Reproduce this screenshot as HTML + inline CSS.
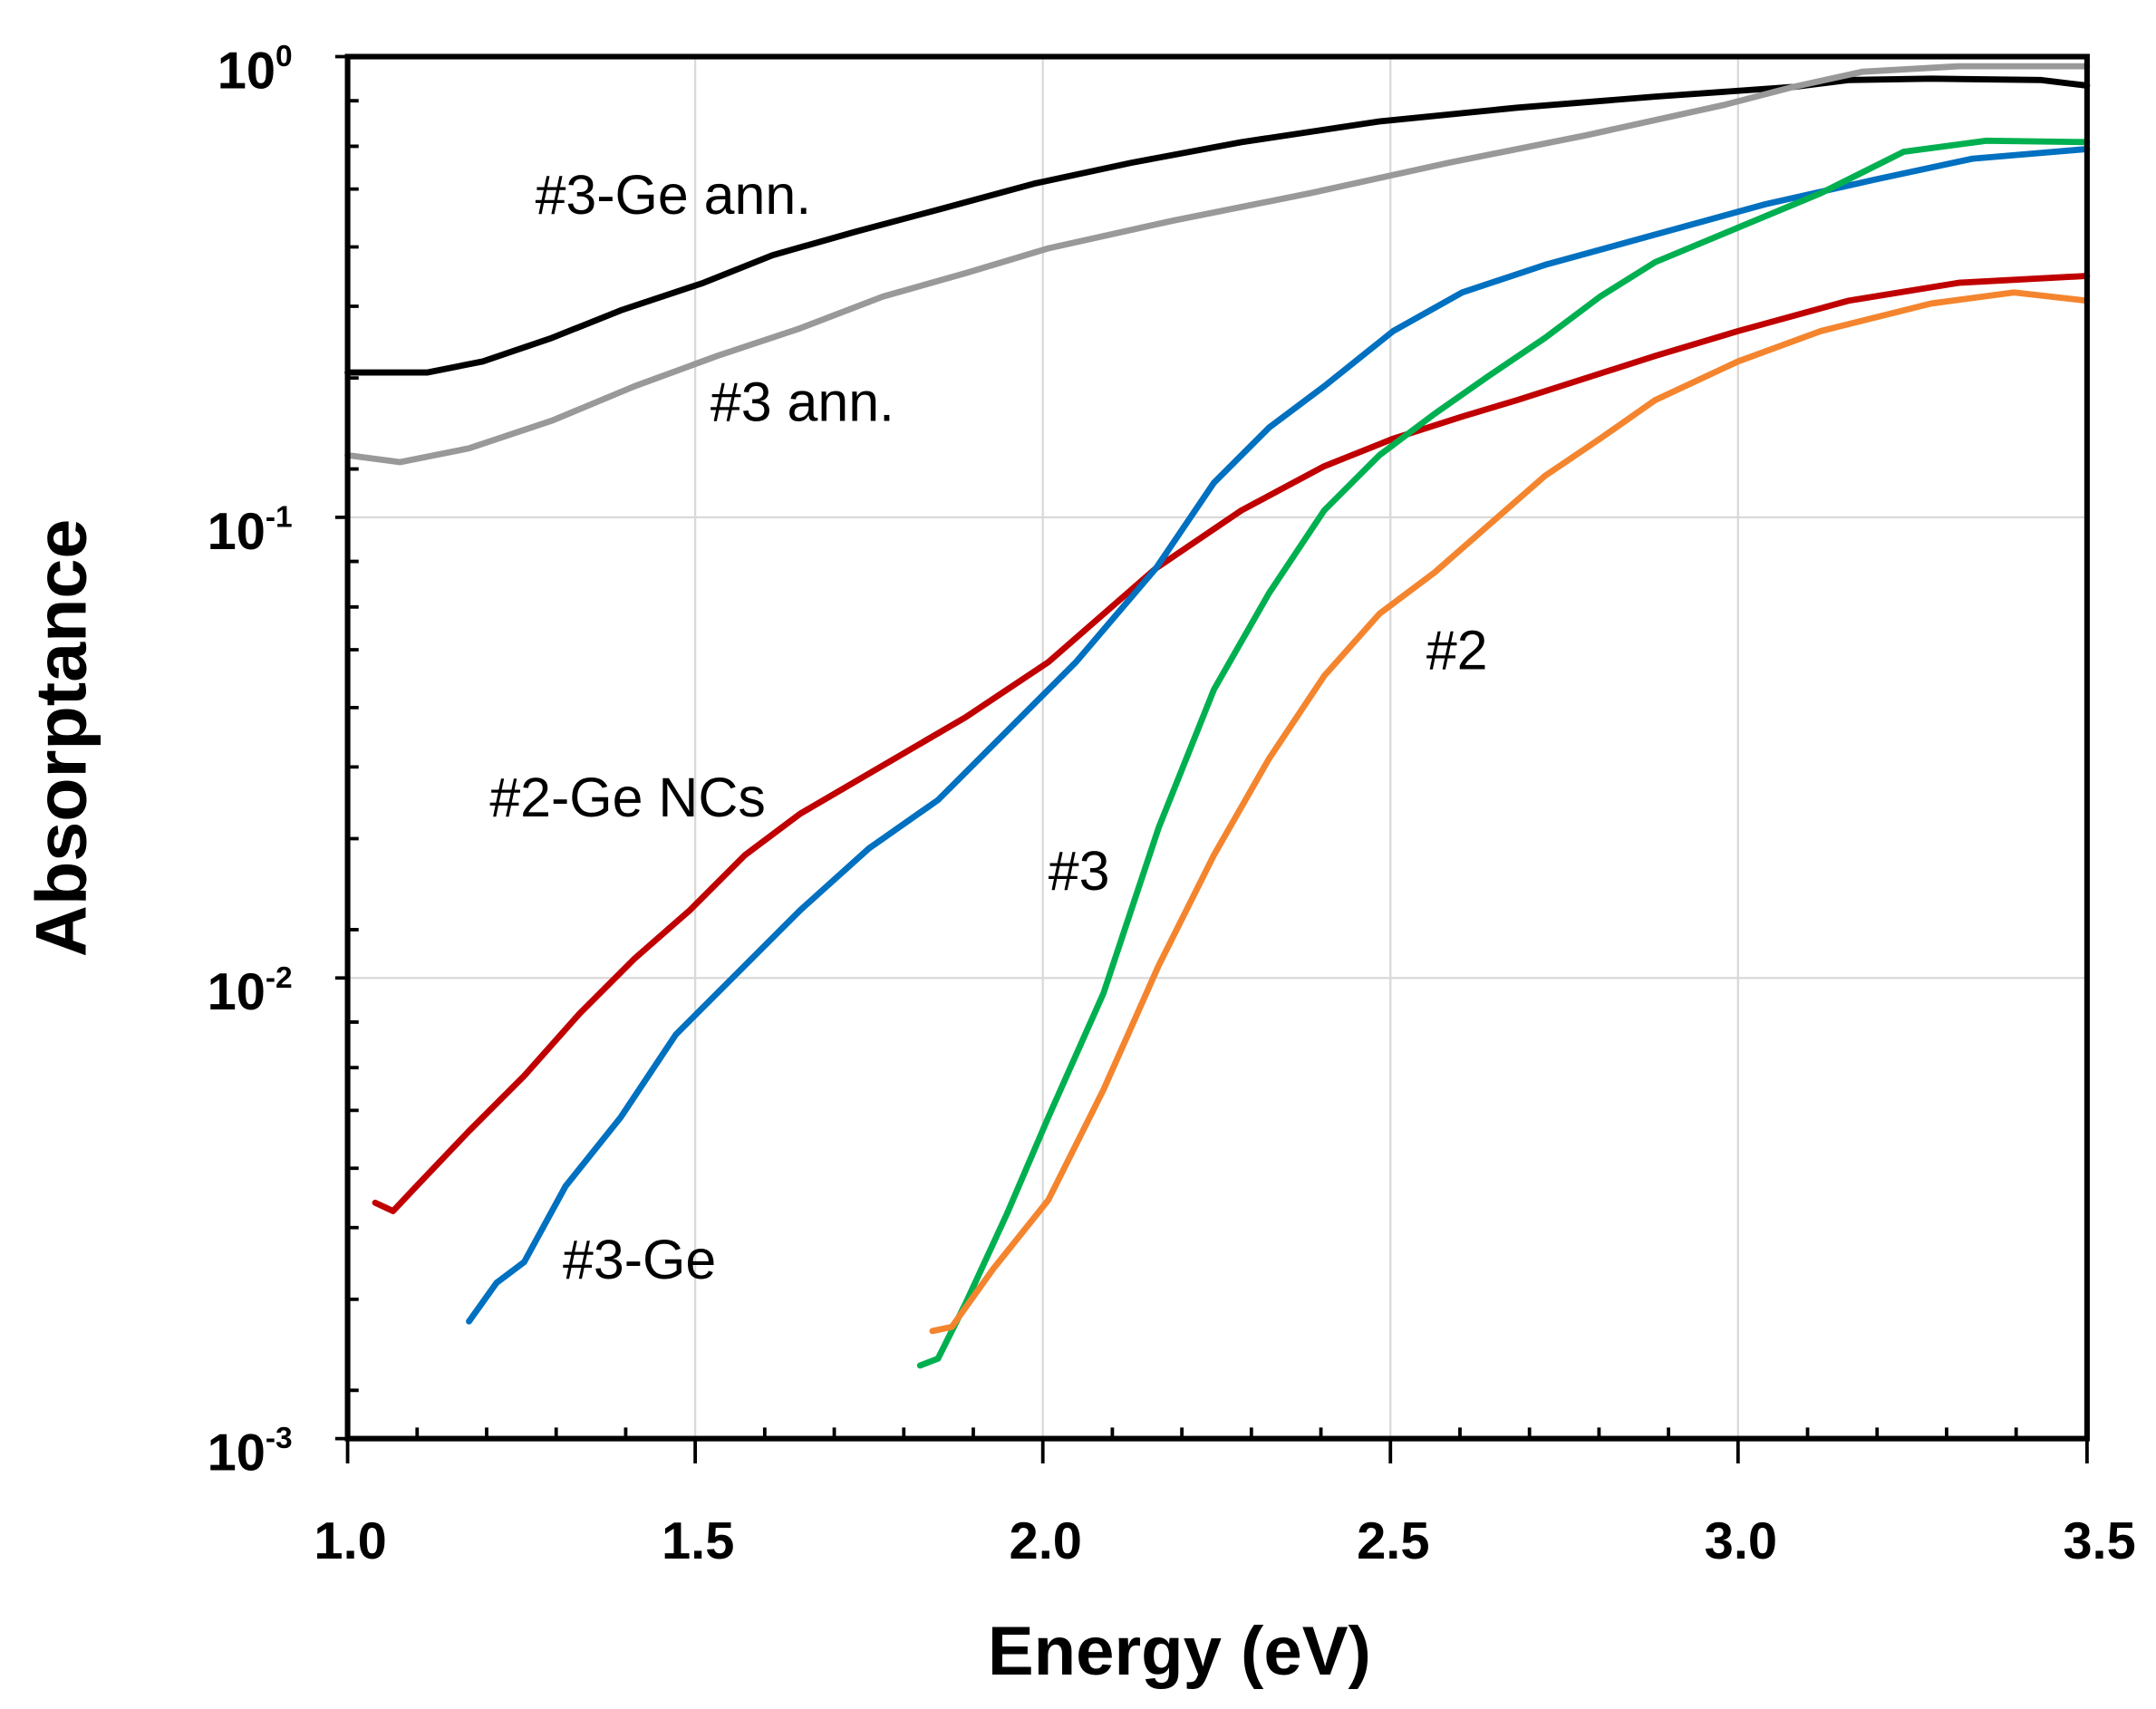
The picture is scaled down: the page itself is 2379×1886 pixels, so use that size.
<!DOCTYPE html>
<html><head><meta charset="utf-8"><style>body{margin:0;background:#fff}svg{display:block}</style></head><body>
<svg width="2379" height="1886" viewBox="0 0 1563 1239" xmlns="http://www.w3.org/2000/svg" font-family="Liberation Sans, sans-serif">
<rect width="1563" height="1239" fill="#fff"/>
<g stroke="#d9d9d9" stroke-width="1.5">
<line x1="504" y1="41" x2="504" y2="1043"/><line x1="756" y1="41" x2="756" y2="1043"/><line x1="1008" y1="41" x2="1008" y2="1043"/><line x1="1260" y1="41" x2="1260" y2="1043"/>
<line x1="252" y1="375" x2="1513" y2="375"/><line x1="252" y1="709" x2="1513" y2="709"/>
</g>
<g fill="none" stroke-width="4.5" stroke-linejoin="round" stroke-linecap="round">
<polyline stroke="#000" points="252,270 310,270 350,262 400,245 450,225 510,205 560,185 620,168 680,152 750,133 820,118 900,103 1000,88 1100,78 1200,70 1300,63 1340,58 1400,57 1480,58 1513,62"/>
<polyline stroke="#999" points="252,330 290,335 340,325 400,305 460,280 520,258 580,238 640,215 700,198 760,180 850,160 950,140 1050,118 1150,98 1250,76 1300,63 1350,52 1420,48 1513,48"/>
<polyline stroke="#c00000" points="272,872 285,878 300,862 340,820 380,780 420,735 460,695 500,660 540,620 580,590 640,555 700,520 760,480 838,412 900,370 960,338 1010,318 1060,302 1100,290 1200,258 1260,240 1340,218 1420,205 1513,200"/>
<polyline stroke="#0070c0" points="340,958 360,930 380,915 410,860 450,810 490,750 530,710 580,660 630,615 680,580 730,530 780,480 838,412 880,350 920,310 960,280 1010,240 1060,212 1120,192 1200,170 1280,148 1360,130 1430,115 1513,108"/>
<polyline stroke="#00b050" points="667,990 680,985 700,945 730,880 760,810 800,720 840,600 880,500 920,430 960,370 1000,330 1040,300 1080,272 1120,245 1160,215 1200,190 1260,165 1320,140 1380,110 1440,102 1513,103"/>
<polyline stroke="#f4852e" points="676,965 690,962 720,920 760,870 800,790 840,700 880,620 920,550 960,490 1000,445 1040,415 1080,380 1120,345 1160,318 1200,290 1260,262 1320,240 1400,220 1460,212 1513,218"/>
</g>
<rect x="252" y="41" width="1261" height="1002" fill="none" stroke="#000" stroke-width="4"/>
<g stroke="#000" stroke-width="2.5">
<path d="M252,1043v18M504,1043v18M756,1043v18M1008,1043v18M1260,1043v18M1513,1043v18M243,41h9M243,375h9M243,709h9M243,1043h9"/>
<path d="M302.4,1043v-8M352.8,1043v-8M403.2,1043v-8M453.6,1043v-8M554.4,1043v-8M604.8,1043v-8M655.2,1043v-8M705.6,1043v-8M806.4,1043v-8M856.8,1043v-8M907.2,1043v-8M957.6,1043v-8M1058.4,1043v-8M1108.8,1043v-8M1159.2,1043v-8M1209.6,1043v-8M1310.4,1043v-8M1360.8,1043v-8M1411.2,1043v-8M1461.6,1043v-8"/>
<path d="M252,73h8M252,106h8M252,137h8M252,179h8M252,222h8M252,274h8M252,340h8M252,407h8M252,440h8M252,471h8M252,513h8M252,556h8M252,608h8M252,674h8M252,741h8M252,774h8M252,805h8M252,847h8M252,890h8M252,942h8M252,1008h8"/>
</g>
<g font-size="38" font-weight="bold" text-anchor="end" fill="#000">
<text x="212" y="64">10<tspan font-size="22" dy="-16">0</tspan></text>
<text x="212" y="398">10<tspan font-size="22" dy="-16">-1</tspan></text>
<text x="212" y="732">10<tspan font-size="22" dy="-16">-2</tspan></text>
<text x="212" y="1066">10<tspan font-size="22" dy="-16">-3</tspan></text>
</g>
<g font-size="38" font-weight="bold" text-anchor="middle">
<text x="254" y="1130">1.0</text><text x="506" y="1130">1.5</text><text x="758" y="1130">2.0</text><text x="1010" y="1130">2.5</text><text x="1262" y="1130">3.0</text><text x="1522" y="1130">3.5</text>
</g>
<text x="855" y="1214" font-size="50" font-weight="bold" text-anchor="middle">Energy (eV)</text>
<text transform="translate(62,535) rotate(-90)" font-size="52" font-weight="bold" text-anchor="middle">Absorptance</text>
<g font-size="40">
<text x="388" y="155">#3-Ge ann.</text>
<text x="515" y="305">#3 ann.</text>
<text x="355" y="592">#2-Ge NCs</text>
<text x="408" y="927">#3-Ge</text>
<text x="760" y="645">#3</text>
<text x="1034" y="485">#2</text>
</g>
</svg>
</body></html>
